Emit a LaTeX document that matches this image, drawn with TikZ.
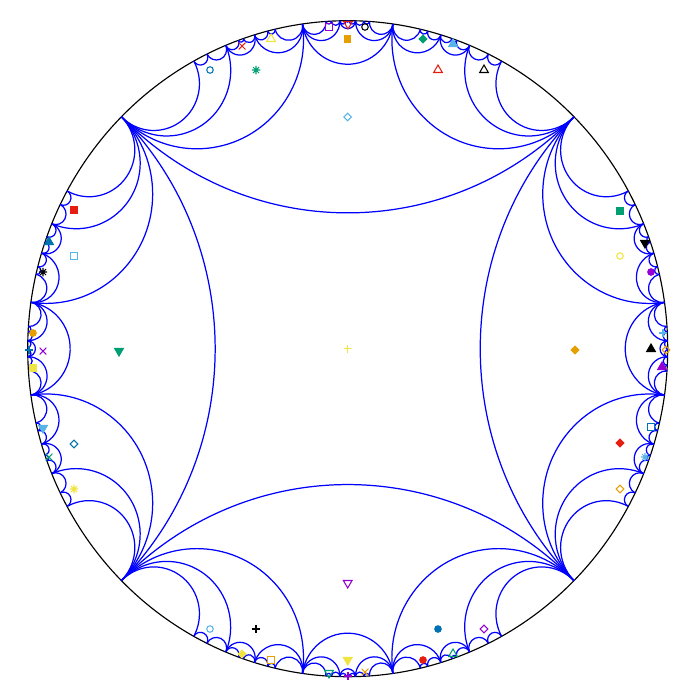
\documentclass[tikz,border=0pt]{standalone}
\usepackage{tikz}
\usetikzlibrary{shapes.geometric}

\definecolor{gpurple}{HTML}{9400D3}
\definecolor{ggreen}{HTML}{009E73}
\definecolor{gsky}{HTML}{56B4E9}
\definecolor{gorange}{HTML}{E69F00}
\definecolor{gyellow}{HTML}{F0E442}
\definecolor{gblue}{HTML}{0072B2}
\definecolor{gred}{HTML}{E51E10}

\begin{document}
\begin{tikzpicture}[
    x=0.02cm, y=-0.02cm,
    geo/.style={blue, line width=0.7pt},
    rim/.style={black, line width=0.65pt},
    mk/.style={inner sep=0pt, line width=0.6pt, color=#1},
    osq/.style={mk=#1, rectangle, draw, minimum size=0.13cm},
    fsq/.style={osq=#1, fill},
    oci/.style={mk=#1, circle, draw, minimum size=0.13cm},
    fci/.style={oci=#1, fill},
    otri/.style={mk=#1, regular polygon, regular polygon sides=3, draw, minimum size=0.2cm},
    ftri/.style={otri=#1, fill},
    odtri/.style={otri=#1, shape border rotate=180},
    fdtri/.style={odtri=#1, fill},
    odia/.style={mk=#1, diamond, draw, minimum size=0.16cm},
    fdia/.style={odia=#1, fill},
    pls/.style={mk=#1, rectangle, minimum size=0.16cm, path picture={
        \draw (path picture bounding box.north) -- (path picture bounding box.south)
              (path picture bounding box.west) -- (path picture bounding box.east);}},
    crs/.style={mk=#1, rectangle, minimum size=0.14cm, path picture={
        \draw (path picture bounding box.north west) -- (path picture bounding box.south east)
              (path picture bounding box.north east) -- (path picture bounding box.south west);}},
    ast/.style={mk=#1, rectangle, minimum size=0.17cm, path picture={
        \draw (path picture bounding box.north) -- (path picture bounding box.south)
              (path picture bounding box.west) -- (path picture bounding box.east)
              (path picture bounding box.center) ++(-0.06cm,-0.06cm) -- ++(0.12cm,0.12cm)
              (path picture bounding box.center) ++(-0.06cm,0.06cm) -- ++(0.12cm,-0.12cm);}}
]
    \useasboundingbox (0,0) rectangle (700,700);

    % --- Disk and ideal quadrilaterals (one quarter, turned four times)
    \begin{scope}[shift={(347.7,348.7)}, xscale=320, yscale=-328]
        \draw[rim] (0,0) circle[radius=1];
        \foreach \r in {0,90,180,270} {
            \foreach \a/\b in {45/135,
                81.87/98.13, 98.13/135, 45/81.87,
                67.62/73.072, 73.072/81.87, 45/67.62,
                81.87/88.603, 88.603/91.397, 91.397/98.13,
                98.13/106.928, 106.928/112.38, 112.38/135,
                61.26/63.925, 63.925/67.62, 45/61.26,
                67.62/70.058, 70.058/70.989, 70.989/73.072,
                73.072/75.51, 75.51/76.891, 76.891/81.87,
                81.87/86.112, 86.112/87.075, 87.075/88.603,
                88.603/89.76, 89.76/90.24, 90.24/91.397,
                91.397/92.925, 92.925/93.888, 93.888/98.13,
                98.13/103.109, 103.109/104.49, 104.49/106.928,
                106.928/109.011, 109.011/109.942, 109.942/112.38,
                112.38/116.075, 116.075/118.74, 118.74/135} {
                \pgfmathsetmacro{\gm}{(\a+\b)/2+\r}
                \pgfmathsetmacro{\gh}{(\b-\a)/2}
                \draw[geo] ({\a+\r}:1) arc[start angle={\gm+270-\gh}, end angle={\gm+90+\gh}, radius={tan(\gh)}];
            }
        }
    \end{scope}

    % --- Centre and first ring
    \node[pls=gyellow] (c0) at (347.7,348.7) {};
    \node[odia=gsky]   (t0) at (347.7,117) {};
    \node[fdia=gorange] (r0) at (575,350) {};
    \node[odtri=gpurple] (b0) at (347.7,583) {};
    \node[fdtri=ggreen] (l0) at (119,351) {};

    % --- Top
    \node[oci=gblue]   (t1)  at (210,70) {};
    \node[ast=ggreen]  (t2)  at (256,70) {};
    \node[crs=gred]    (t3)  at (242,46) {};
    \node[otri=gyellow] (t4) at (271,39) {};
    \node[osq=gpurple] (t5)  at (329,27) {};
    \node[fsq=gorange] (t6)  at (347.7,39) {};
    \node[odtri=gred]  (t7)  at (348,24) {};
    \node[oci=black]   (t8)  at (365,27) {};
    \node[fdia=ggreen] (t9)  at (423,39) {};
    \node[ftri=gsky]   (t10) at (453,44) {};
    \node[otri=gred]   (t11) at (438,70) {};
    \node[otri=black]  (t12) at (484,70) {};

    % --- Right
    \node[fsq=ggreen]   (r1)  at (620,211) {};
    \node[fdtri=black]  (r2)  at (645,243) {};
    \node[oci=gyellow]  (r3)  at (620,256) {};
    \node[fci=gpurple]  (r4)  at (651,272) {};
    \node[pls=gsky]     (r5)  at (663,333) {};
    \node[ftri=black]   (r6)  at (651,349) {};
    \node[odia=gorange] (r7)  at (666,350) {};
    \node[ftri=gpurple] (r8)  at (662,367) {};
    \node[osq=gblue]    (r9)  at (651,427) {};
    \node[fdia=gred]    (r10) at (620,443) {};
    \node[ast=gsky]     (r11) at (645,457) {};
    \node[odia=gorange] (r12) at (620,489) {};

    % --- Left
    \node[fsq=gred]     (l1)  at (74,210) {};
    \node[ftri=gblue]   (l2)  at (49,242) {};
    \node[osq=gsky]     (l3)  at (74,256) {};
    \node[ast=black]    (l4)  at (43,272) {};
    \node[fci=gorange]  (l5)  at (33,333) {};
    \node[pls=gblue]    (l6)  at (29,350) {};
    \node[crs=gpurple]  (l7)  at (43,351) {};
    \node[fsq=gyellow]  (l8)  at (33,368) {};
    \node[fdtri=gsky]   (l9)  at (43,428) {};
    \node[odia=gblue]   (l10) at (74,444) {};
    \node[crs=ggreen]   (l11) at (49,457) {};
    \node[ast=gyellow]  (l12) at (74,489) {};

    % --- Bottom
    \node[oci=gsky]     (b1)  at (210,629) {};
    \node[pls=black]    (b2)  at (256,629) {};
    \node[fdia=gyellow] (b3)  at (242,654) {};
    \node[osq=gorange]  (b4)  at (271,660) {};
    \node[fdtri=gyellow] (b5) at (347.7,660) {};
    \node[odtri=ggreen] (b6)  at (329,673) {};
    \node[pls=gpurple]  (b7)  at (348,676) {};
    \node[crs=gorange]  (b8)  at (365,672) {};
    \node[fci=gred]     (b9)  at (423,660) {};
    \node[otri=ggreen]  (b10) at (453,654) {};
    \node[fci=gblue]    (b11) at (438,629) {};
    \node[odia=gpurple] (b12) at (484,629) {};

\end{tikzpicture}
\end{document}
